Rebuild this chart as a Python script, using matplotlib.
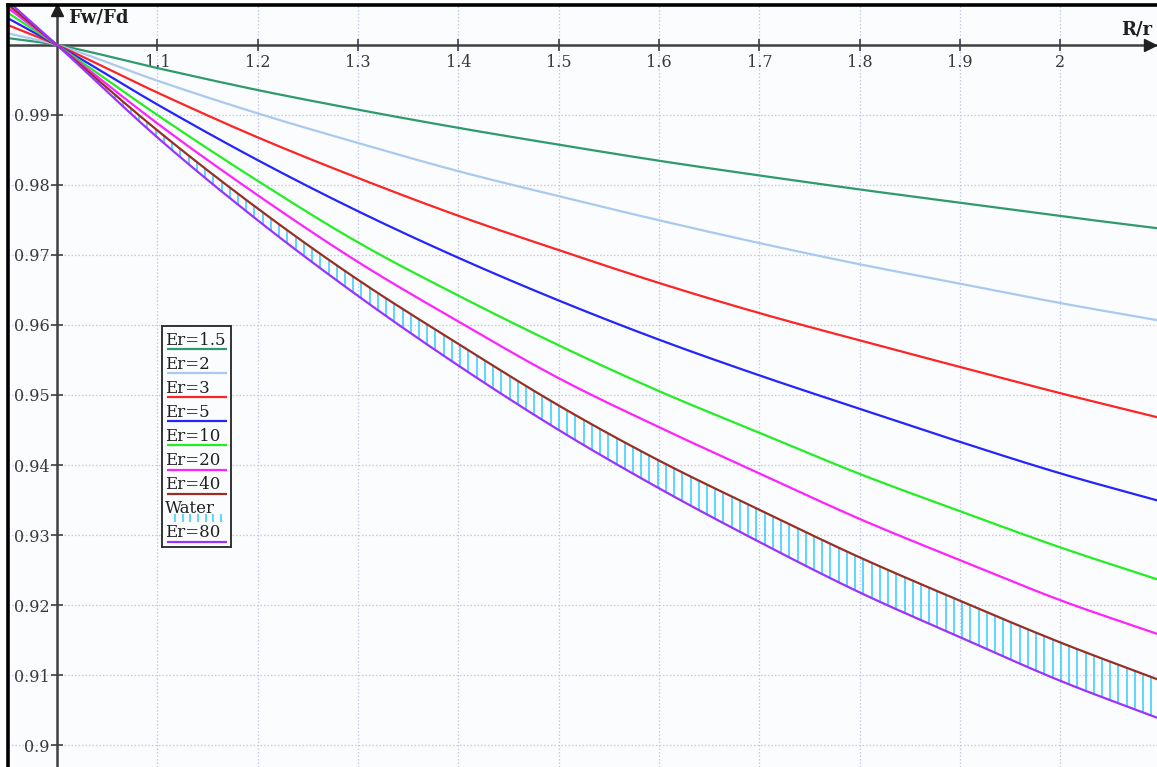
import numpy as np
import matplotlib
matplotlib.use('Agg')
import matplotlib.pyplot as plt
from matplotlib.lines import Line2D

# ---------------- data ----------------
x = [0.95, 1.0, 1.1, 1.2, 1.3, 1.4, 1.5, 1.6, 1.7, 1.8, 1.9, 2.0, 2.1]
er1_5 = [1.0010, 1.0, 0.9967, 0.99356, 0.99076, 0.98816, 0.98576, 0.98346, 0.98136, 0.97936, 0.97746, 0.97556, 0.97376]
er2 = [1.0017, 1.0, 0.9949, 0.99023, 0.9860, 0.98197, 0.9784, 0.97496, 0.9717, 0.96867, 0.9659, 0.96313, 0.9606]
er3 = [1.0029, 1.0, 0.9932, 0.98680, 0.9810, 0.97560, 0.9707, 0.96600, 0.9617, 0.95780, 0.9540, 0.95025, 0.9467]
er5 = [1.0039, 1.0, 0.9915, 0.98355, 0.97625, 0.96960, 0.9635, 0.95790, 0.9528, 0.94802, 0.9433, 0.93880, 0.9348]
er10 = [1.0047, 1.0, 0.9900, 0.98059, 0.9718, 0.96420, 0.9571, 0.95055, 0.9446, 0.93872, 0.9334, 0.92822, 0.9235]
er20 = [1.0054, 1.0, 0.9888, 0.97854, 0.9690, 0.96050, 0.9524, 0.94540, 0.9388, 0.93229, 0.9264, 0.92068, 0.9157]
er40 = [1.0059, 1.0, 0.9878, 0.97664, 0.96645, 0.95730, 0.9485, 0.94063, 0.9336, 0.92680, 0.9206, 0.91464, 0.9092]
er80 = [1.0064, 1.0, 0.9868, 0.97496, 0.96415, 0.95420, 0.9450, 0.93667, 0.9290, 0.92179, 0.9154, 0.90916, 0.9037]

series_labels = ['Er=1.5', 'Er=2', 'Er=3', 'Er=5', 'Er=10', 'Er=20', 'Er=40', 'Er=80']
series_values = [er1_5, er2, er3, er5, er10, er20, er40, er80]
series_colors = ['#2f9a6c', '#a9c9ee', '#ff2424', '#2424ff', '#22ee22', '#ff22ff', '#992e22', '#9933ff']
water_color = '#33ccff'

xtick_vals = [1.1, 1.2, 1.3, 1.4, 1.5, 1.6, 1.7, 1.8, 1.9, 2.0]
xtick_labels = ['1.1', '1.2', '1.3', '1.4', '1.5', '1.6', '1.7', '1.8', '1.9', '2']
ytick_vals = [0.99, 0.98, 0.97, 0.96, 0.95, 0.94, 0.93, 0.92, 0.91, 0.90]
ytick_labels = ['0.99', '0.98', '0.97', '0.96', '0.95', '0.94', '0.93', '0.92', '0.91', '0.9']


def smooth(xp, yp, n=12):
    """Cubic Hermite rendering of a polyline through the read points (display only)."""
    xp = np.asarray(xp, float)
    yp = np.asarray(yp, float)
    d = np.diff(yp) / np.diff(xp)
    m = np.empty_like(yp)
    m[0], m[-1] = d[0], d[-1]
    m[1:-1] = (d[:-1] + d[1:]) / 2
    xs_out, ys_out = [], []
    for i in range(len(xp) - 1):
        h = xp[i + 1] - xp[i]
        t = np.linspace(0, 1, n, endpoint=False)
        h00 = 2 * t**3 - 3 * t**2 + 1
        h10 = t**3 - 2 * t**2 + t
        h01 = -2 * t**3 + 3 * t**2
        h11 = t**3 - t**2
        xs_out.append(xp[i] + t * h)
        ys_out.append(h00 * yp[i] + h10 * h * m[i] + h01 * yp[i + 1] + h11 * h * m[i + 1])
    xs_out.append([xp[-1]])
    ys_out.append([yp[-1]])
    return np.concatenate(xs_out), np.concatenate(ys_out)


# ---------------- figure ----------------
plt.rcParams['font.family'] = ['DejaVu Serif']
W, H = 1157, 767
fig = plt.figure(figsize=(W / 100, H / 100), dpi=100)
fig.patch.set_facecolor('white')
ax = fig.add_axes([8 / W, 0, (W - 8) / W, (H - 5) / H])
ax.set_facecolor('#fbfcfd')
ax.set_xlim(0.9512, 2.0962)
ax.set_ylim(0.89686, 1.00571)

axis_col = '#404040'
for s in ('right', 'top'):
    ax.spines[s].set_visible(False)
ax.spines['left'].set_position(('data', 1.0))
ax.spines['bottom'].set_position(('data', 1.0))
for s in ('left', 'bottom'):
    ax.spines[s].set_color(axis_col)
    ax.spines[s].set_linewidth(1.8)

ax.set_xticks(xtick_vals, xtick_labels)
ax.set_yticks(ytick_vals, ytick_labels)
ax.tick_params(axis='both', direction='inout', length=9, width=1.2, color=axis_col,
               labelsize=11.5, labelcolor='#3a3a3a')
ax.tick_params(axis='x', pad=2)
ax.tick_params(axis='y', pad=1)
ax.grid(True, color='#c6c6f2', linestyle=(0, (1.2, 1.6)), linewidth=0.9)
ax.set_axisbelow(True)

# water hatching between Er=40 and Er=80
sx40, sy40 = smooth(x, er40)
sx80, sy80 = smooth(x, er80)
xs = np.arange(1.0, 2.1, 0.0082)
lo = np.interp(xs, sx80, sy80)
hi = np.interp(xs, sx40, sy40)
ax.vlines(xs, lo, hi, color=water_color, linewidth=1.1, zorder=2.7)

for vals, col in zip(series_values, series_colors):
    sx, sy = smooth(x, vals)
    ax.plot(sx, sy, color=col, linewidth=1.6, zorder=3, solid_capstyle='butt')

# arrows on axes
ax.plot([0.994], [1.0], marker='>', markersize=8, color='#202020',
        transform=ax.get_yaxis_transform(), clip_on=False, zorder=4)
ax.plot([1.0], [0.9934], marker='^', markersize=8, color='#202020',
        transform=ax.get_xaxis_transform(), clip_on=False, zorder=4)

# outer frame (left and top)
fig.add_artist(Line2D([8 / W, 8 / W], [0, (H - 5) / H], transform=fig.transFigure,
                      color='black', linewidth=2.6))
fig.add_artist(Line2D([8 / W, 1], [(H - 5) / H, (H - 5) / H], transform=fig.transFigure,
                      color='black', linewidth=2.6))

# axis labels
fig.text(68 / W, 1 - 17 / H, 'Fw/Fd', fontweight='bold', fontsize=13,
         ha='left', va='center', color='#202020')
fig.text(1121 / W, 1 - 29 / H, 'R/r', fontweight='bold', fontsize=13,
         ha='left', va='center', color='#202020')

# ---------------- custom legend ----------------
L_left, L_right, L_top, L_bot = 162, 231, 326, 547
lax = fig.add_axes([L_left / W, (H - L_bot) / H, (L_right - L_left) / W, (L_bot - L_top) / H])
lax.set_xlim(0, 1)
lax.set_ylim(0, 1)
lax.set_facecolor('#fbfcfd')
lax.set_xticks([])
lax.set_yticks([])
for s in lax.spines.values():
    s.set_color('#333333')
    s.set_linewidth(1.4)

leg_labels = ['Er=1.5', 'Er=2', 'Er=3', 'Er=5', 'Er=10', 'Er=20', 'Er=40', 'Water', 'Er=80']
leg_colors = series_colors[:7] + [water_color] + [series_colors[7]]
hpx = L_bot - L_top
wpx = L_right - L_left
for i, (lab, col) in enumerate(zip(leg_labels, leg_colors)):
    line_py = 349 + 24.1 * i
    text_py = 344.5 + 24.1 * i
    ly = (L_bot - line_py) / hpx
    ty = (L_bot - text_py) / hpx
    lax.text((165 - L_left) / wpx, ty, lab, fontsize=12, ha='left', va='baseline',
             color='#202020')
    if lab == 'Water':
        tx = np.linspace((175 - L_left) / wpx, (221 - L_left) / wpx, 7)
        lax.vlines(tx, (L_bot - 522) / hpx, (L_bot - 514) / hpx, color=col, linewidth=1.1)
    else:
        lax.plot([(167 - L_left) / wpx, (227 - L_left) / wpx], [ly, ly], color=col,
                 linewidth=1.6, solid_capstyle='butt')

fig.savefig('out.png', dpi=100)
